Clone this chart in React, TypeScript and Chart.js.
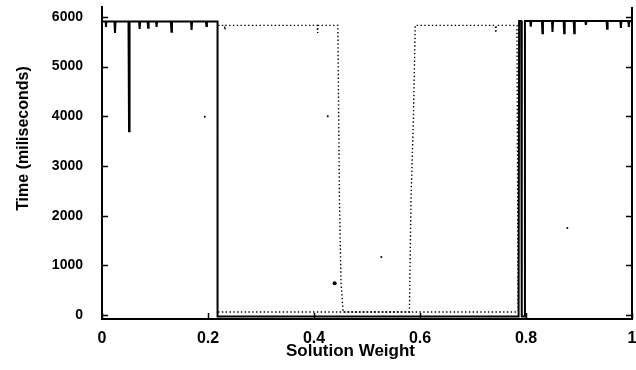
import React, { useEffect, useRef } from "react";
import { Chart, registerables } from "chart.js";

Chart.register(...registerables);

// Axis ticks
const xTickValues = [0, 0.2, 0.4, 0.6, 0.8, 1];
const xTickLabels = ["0", "0.2", "0.4", "0.6", "0.8", "1"];
const yTickValues = [0, 1000, 2000, 3000, 4000, 5000, 6000];
const yTickLabels = ["0", "1000", "2000", "3000", "4000", "5000", "6000"];

// Solid series (solution weight -> time in ms)
const solidX = [
  0, 0.007, 0.0075, 0.008,
  0.0235, 0.0245, 0.0255,
  0.050, 0.051, 0.052,
  0.070, 0.071, 0.072,
  0.086, 0.087, 0.088,
  0.102, 0.103, 0.104,
  0.130, 0.131, 0.132,
  0.168, 0.169, 0.170,
  0.196, 0.197, 0.198,
  0.218, 0.218,
  0.786, 0.787, 0.791, 0.792, 0.797, 0.798,
  0.808, 0.809, 0.810,
  0.830, 0.831, 0.832,
  0.849, 0.850, 0.851,
  0.871, 0.872, 0.873,
  0.890, 0.891, 0.892,
  0.912, 0.913, 0.914,
  0.952, 0.953, 0.954,
  0.978, 0.979, 0.980,
  0.993, 0.994, 0.995,
  1.0,
];
const solidY = [
  5910, 5910, 5800, 5910,
  5910, 5680, 5910,
  5910, 3700, 5910,
  5910, 5760, 5910,
  5910, 5780, 5910,
  5910, 5800, 5910,
  5910, 5700, 5910,
  5910, 5740, 5910,
  5910, 5820, 5910,
  5910, -30,
  -30, 5920, 5920, -30, -30, 5920,
  5920, 5805, 5920,
  5920, 5670, 5920,
  5920, 5700, 5920,
  5920, 5670, 5920,
  5920, 5670, 5920,
  5920, 5840, 5920,
  5920, 5760, 5920,
  5920, 5780, 5920,
  5920, 5800, 5920,
  5920,
];

// Dotted series, upper branch
const dottedUpperX = [
  0.219, 0.231, 0.232, 0.233,
  0.406, 0.407, 0.408,
  0.445, 0.448, 0.451, 0.455,
  0.580, 0.583, 0.5875, 0.591,
  0.742, 0.743, 0.744,
  0.783, 0.785,
];
const dottedUpperY = [
  5830, 5830, 5740, 5830,
  5830, 5680, 5830,
  5830, 2320, 650, 60,
  60, 2320, 3920, 5830,
  5830, 5680, 5830,
  5830, 80,
];

// Dotted series, lower branch
const dottedLowerX = [0.219, 0.784];
const dottedLowerY = [60, 60];

// Isolated points
const strayX = [0.194, 0.426, 0.439, 0.527, 0.878];
const strayY = [3990, 4000, 640, 1170, 1750];

const zip = (xs: number[], ys: number[]) => xs.map((x, i) => ({ x, y: ys[i] }));

const framePlugin = {
  id: "frame",
  afterDraw(chart: any) {
    const { ctx, chartArea: a, scales } = chart;
    const x = scales.x;
    const y = scales.y;
    ctx.save();
    ctx.strokeStyle = "#000";
    ctx.lineWidth = 2;
    ctx.beginPath();
    ctx.moveTo(a.right, a.top);
    ctx.lineTo(a.right, a.bottom + 1);
    ctx.stroke();
    ctx.lineWidth = 1.5;
    ctx.beginPath();
    for (const v of yTickValues) {
      const py = Math.round(y.getPixelForValue(v)) + 0.5;
      ctx.moveTo(a.left, py);
      ctx.lineTo(a.left + 6, py);
      ctx.moveTo(a.right, py);
      ctx.lineTo(a.right - 6, py);
    }
    for (const v of xTickValues) {
      const px = Math.round(x.getPixelForValue(v)) + 0.5;
      ctx.moveTo(px, a.bottom);
      ctx.lineTo(px, a.bottom - 6);
    }
    ctx.stroke();
    ctx.restore();
  },
};

export default function App() {
  const ref = useRef<HTMLCanvasElement | null>(null);

  useEffect(() => {
    document.body.style.margin = "0";
    const canvas = ref.current;
    if (!canvas) return;
    const family = "'Liberation Sans', Arial, Helvetica, sans-serif";
    const chart = new Chart(canvas, {
      type: "line",
      data: {
        datasets: [
          {
            label: "solid",
            data: zip(solidX, solidY),
            borderColor: "#000",
            borderWidth: 2,
            pointRadius: 0,
            tension: 0,
            fill: false,
          },
          {
            label: "dotted upper",
            data: zip(dottedUpperX, dottedUpperY),
            borderColor: "#000",
            borderWidth: 1.4,
            borderDash: [1.4, 2.4],
            pointRadius: 0,
            tension: 0,
            fill: false,
          },
          {
            label: "dotted lower",
            data: zip(dottedLowerX, dottedLowerY),
            borderColor: "#000",
            borderWidth: 1.4,
            borderDash: [1.4, 2.4],
            pointRadius: 0,
            tension: 0,
            fill: false,
          },
          {
            label: "points",
            data: zip(strayX, strayY),
            showLine: false,
            pointRadius: [1, 1, 2, 1, 1],
            pointBackgroundColor: "#000",
            pointBorderWidth: 0,
            borderColor: "#000",
          },
        ],
      },
      options: {
        animation: false,
        responsive: false,
        devicePixelRatio: 1,
        events: [],
        layout: { padding: { left: 0, top: 7, right: 3, bottom: 0 } },
        plugins: {
          legend: { display: false },
          tooltip: { enabled: false },
        },
        scales: {
          x: {
            type: "linear",
            min: 0,
            max: 1,
            afterBuildTicks: (scale: any) => {
              scale.ticks = xTickValues.map((v) => ({ value: v }));
            },
            afterFit: (scale: any) => {
              scale.height = 51;
              scale.paddingLeft = 0;
              scale.paddingRight = 0;
            },
            ticks: {
              autoSkip: false,
              maxRotation: 0,
              padding: 10,
              color: "#000",
              font: { family, size: 16, weight: "bold" },
              callback: (_v: any, i: number) => xTickLabels[i],
            },
            grid: { drawOnChartArea: false, drawTicks: false },
            border: { display: true, color: "#000", width: 2 },
            title: {
              display: true,
              text: "Solution Weight       ",
              color: "#000",
              font: { family, size: 17, weight: "bold" },
              padding: { top: 0, bottom: 8 },
            },
          },
          y: {
            type: "linear",
            min: -80,
            max: 6200,
            afterBuildTicks: (scale: any) => {
              scale.ticks = yTickValues.map((v) => ({ value: v }));
            },
            afterFit: (scale: any) => {
              scale.width = 102;
              scale.paddingTop = 0;
              scale.paddingBottom = 0;
            },
            ticks: {
              autoSkip: false,
              padding: 19,
              color: "#000",
              font: { family, size: 14, weight: "bold" },
              callback: (_v: any, i: number) => yTickLabels[i],
            },
            grid: { drawOnChartArea: false, drawTicks: false },
            border: { display: true, color: "#000", width: 2 },
            title: {
              display: true,
              text: "           Time (miliseconds)",
              color: "#000",
              font: { family, size: 16, weight: "bold" },
              padding: { top: 14, bottom: 0 },
            },
          },
        },
      },
      plugins: [framePlugin],
    } as any);
    return () => chart.destroy();
  }, []);

  return (
    <div style={{ width: 636, height: 370, background: "#fff" }}>
      <canvas ref={ref} width={636} height={370} style={{ display: "block" }} />
    </div>
  );
}
